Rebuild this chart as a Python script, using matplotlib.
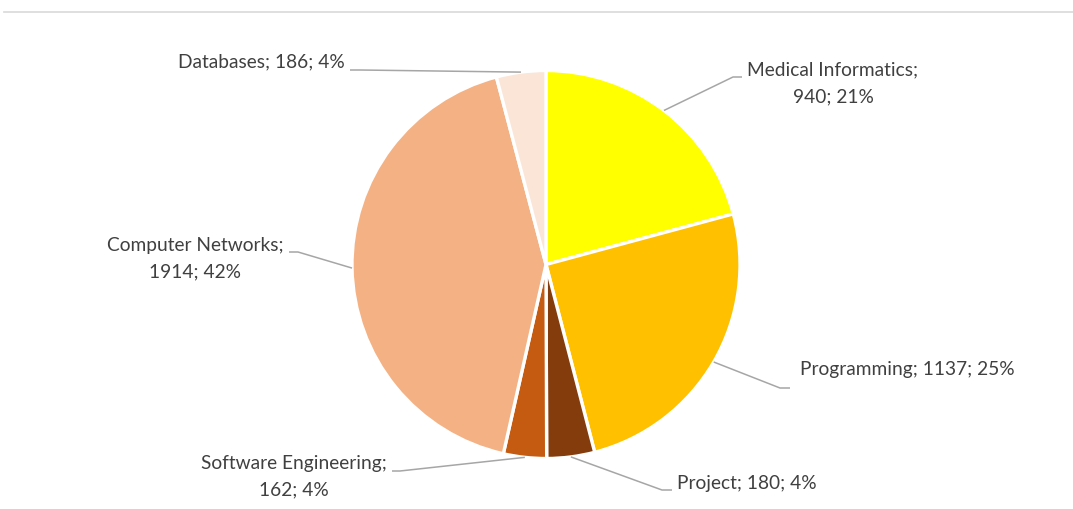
import numpy as np
import matplotlib
matplotlib.use("Agg")
import matplotlib.pyplot as plt
from matplotlib.lines import Line2D

# Course hours by subject area
categories = ["Medical Informatics", "Programming", "Project",
              "Software Engineering", "Computer Networks", "Databases"]
values = [940, 1137, 180, 162, 1914, 186]
colors = ["#FFFF00", "#FFC000", "#843C0C", "#C55A11", "#F4B183", "#FBE5D6"]

W, H = 1073, 509
fig = plt.figure(figsize=(W / 100, H / 100), dpi=100)
ax = fig.add_axes([0, 0, 1, 1])

# pixel-style coordinates: y measured from top
def Y(py):
    return H - py

cx, cy, R = 546, 264.5, 194
ax.pie(values, colors=colors, startangle=90, counterclock=False,
       center=(cx, Y(cy)), radius=R,
       wedgeprops=dict(edgecolor="white", linewidth=2.4))
ax.set_xlim(0, W)
ax.set_ylim(0, H)
ax.set_aspect("equal")
ax.axis("off")

# thin rule along the top of the chart area
fig.add_artist(Line2D([4 / W, 1.0], [1 - 11.5 / H, 1 - 11.5 / H],
                      color="#d9d9d9", lw=1.2))

total = sum(values)
pcts = [round(v / total * 100) for v in values]

# label layout: (text x, text y, ha, two-line?, elbow point, line end)
layout = {
    "Medical Informatics": (833, 83.5, "center", True, (733, 77), (742, 77)),
    "Programming": (800, 370, "left", False, (780, 388), (790, 388)),
    "Project": (677, 483.5, "left", False, (662, 490), (672, 490)),
    "Software Engineering": (294, 476.5, "center", True, (400, 471), (392, 471)),
    "Computer Networks": (195, 258.5, "center", True, (298, 252), (289, 252)),
    "Databases": (345, 62, "right", False, (360, 70), (350, 70)),
}

cum = np.cumsum([0] + values)
for i, cat in enumerate(categories):
    mid = (cum[i] + cum[i + 1]) / 2 / total * 360.0
    ex = cx + R * np.sin(np.radians(mid))
    ey = cy - R * np.cos(np.radians(mid))
    tx, ty, ha, two, elbow, end = layout[cat]
    sep = "\n" if two else " "
    label = f"{cat};{sep}{values[i]}; {pcts[i]}%"
    ax.plot([ex, elbow[0], end[0]], [Y(ey), Y(elbow[1]), Y(end[1])],
            color="#a6a6a6", lw=1.1, solid_capstyle="butt")
    ax.text(tx, Y(ty), label, ha=ha, va="center", multialignment="center",
            fontsize=13.8, family="Lato", color="#404040", linespacing=1.7)

fig.savefig("out.png", dpi=100)
